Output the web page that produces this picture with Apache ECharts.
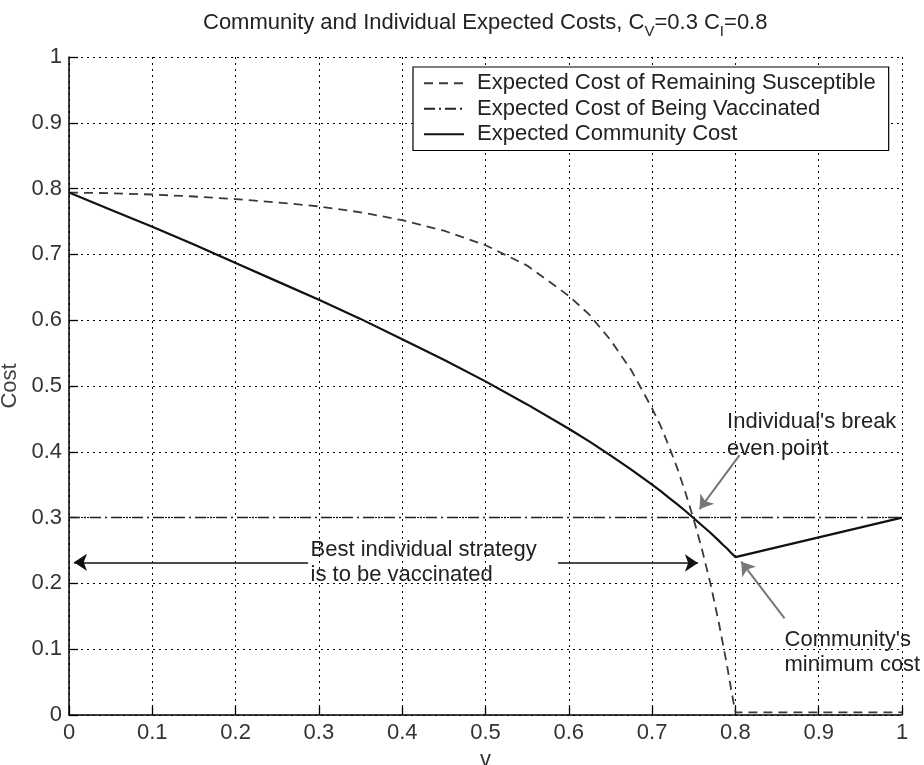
<!DOCTYPE html>
<html><head><meta charset="utf-8">
<script src="https://cdn.jsdelivr.net/npm/echarts@6/dist/echarts.min.js"></script>
<style>html,body{margin:0;padding:0;background:#fff}#c{width:924px;height:765px}</style>
</head><body><div id="c"></div>
<script>
// v (fraction vaccinated)
const vValues = [0, 0.05, 0.1, 0.15, 0.2, 0.25, 0.3, 0.35, 0.4, 0.45, 0.5, 0.55, 0.6, 0.625, 0.65, 0.675, 0.7, 0.71, 0.72, 0.73, 0.74, 0.75, 0.76, 0.77, 0.78, 0.785, 0.79, 0.795, 0.8, 0.9, 1.0];
// Expected cost of remaining susceptible
const susceptibleCost = [0.794, 0.793, 0.791, 0.788, 0.784, 0.779, 0.773, 0.764, 0.752, 0.736, 0.714, 0.683, 0.637, 0.608, 0.570, 0.524, 0.466, 0.440, 0.409, 0.376, 0.338, 0.297, 0.251, 0.200, 0.141, 0.108, 0.075, 0.038, 0.004, 0.004, 0.004];
// Expected community cost
const communityCost = [0.794, 0.768, 0.742, 0.715, 0.687, 0.659, 0.631, 0.602, 0.571, 0.540, 0.507, 0.472, 0.435, 0.4155, 0.3945, 0.373, 0.350, 0.3405, 0.3305, 0.3205, 0.310, 0.299, 0.288, 0.277, 0.265, 0.2587, 0.253, 0.2463, 0.240, 0.270, 0.300];
// Expected cost of being vaccinated
const vaccV = [0, 1];
const vaccinatedCost = [0.3, 0.3];

const xTickLabels = ['0','0.1','0.2','0.3','0.4','0.5','0.6','0.7','0.8','0.9','1'];
const yTickLabels = ['0','0.1','0.2','0.3','0.4','0.5','0.6','0.7','0.8','0.9','1'];
const seriesNames = ['Expected Cost of Remaining Susceptible', 'Expected Cost of Being Vaccinated', 'Expected Community Cost'];

const annotationTexts = ["Individual's break\neven point", "Community's\nminimum cost", "Best individual strategy\nis to be vaccinated"];
const annotationAnchors = [[0.790, 0.425], [0.859, 0.095], [0.290, 0.232]];
const calloutArrows = [[[0.805, 0.395], [0.757, 0.313]], [[0.859, 0.147], [0.807, 0.233]]];
const strategyArrows = [[[0.287, 0.232], [0.006, 0.232]], [[0.587, 0.231], [0.755, 0.231]]];

const FF = "'Liberation Sans', Arial, Helvetica, sans-serif";
const zip = (xs, ys) => xs.map((x, i) => [x, ys[i]]);

const chart = echarts.init(document.getElementById('c'), null, {renderer: 'canvas'});
chart.setOption({
  animation: false,
  backgroundColor: '#fff',
  title: {
    text: 'Community and Individual Expected Costs, C{s|V}=0.3 C{s|I}=0.8',
    left: 203, top: 6, padding: 0,
    textStyle: {fontSize: 22, fontWeight: 'normal', color: '#222', fontFamily: FF,
      rich: {s: {fontSize: 15, fontFamily: FF, color: '#222', padding: [18, 0, 0, 0]}}}
  },
  legend: {
    orient: 'vertical', left: 413, top: 67, padding: [5, 13, 5, 10],
    itemWidth: 40, itemHeight: 14, itemGap: 3,
    borderColor: '#000', borderWidth: 1.2, backgroundColor: '#fff', borderRadius: 0,
    selectedMode: false,
    itemStyle: {color: 'rgba(0,0,0,0)', borderWidth: 0, opacity: 0},
    textStyle: {fontSize: 22, color: '#222', fontFamily: FF, lineHeight: 22.5, padding: [0, 0, 0, 8]},
    data: seriesNames
  },
  grid: {left: 69, right: 22, top: 57, bottom: 50, containLabel: false, outerBoundsMode: 'none'},
  xAxis: {
    type: 'value', min: 0, max: 1, interval: 0.1,
    name: 'v', nameLocation: 'middle', nameGap: 29,
    nameTextStyle: {fontSize: 22, color: '#333', fontFamily: FF},
    axisLine: {show: true, onZero: false, lineStyle: {color: '#000', width: 1.5}},
    axisTick: {show: true, inside: true, length: 9, lineStyle: {color: '#000', width: 1.3}},
    axisLabel: {fontSize: 22, color: '#333', fontFamily: FF, margin: 7,
      formatter: v => xTickLabels[Math.round(v * 10)]},
    splitLine: {show: true, lineStyle: {color: '#000', width: 1, type: [2, 4]}}
  },
  yAxis: {
    type: 'value', min: 0, max: 1, interval: 0.1,
    name: 'Cost', nameLocation: 'middle', nameGap: 46, nameRotate: 90,
    nameTextStyle: {fontSize: 22, color: '#444', fontFamily: FF},
    axisLine: {show: true, onZero: false, lineStyle: {color: '#000', width: 1.5}},
    axisTick: {show: true, inside: true, length: 9, lineStyle: {color: '#000', width: 1.3}},
    axisLabel: {fontSize: 22, color: '#333', fontFamily: FF, margin: 7,
      formatter: v => yTickLabels[Math.round(v * 10)]},
    splitLine: {show: true, lineStyle: {color: '#000', width: 1, type: [2, 4]}}
  },
  series: [
    {
      name: seriesNames[0], type: 'line', data: zip(vValues, susceptibleCost),
      showSymbol: false, symbol: 'none', smooth: false, z: 3, clip: false,
      lineStyle: {color: '#3a3a3a', width: 1.8, type: [9, 6]},
      itemStyle: {color: '#3a3a3a'}
    },
    {
      name: seriesNames[1], type: 'line', data: zip(vaccV, vaccinatedCost),
      showSymbol: false, symbol: 'none', z: 3,
      lineStyle: {color: '#222', width: 1.5, type: [11, 4, 2, 4]},
      itemStyle: {color: '#222'},
      markLine: {
        silent: true, symbol: ['none', 'arrow'], symbolSize: 13,
        label: {show: false},
        lineStyle: {color: '#111', width: 1.6, type: 'solid'},
        data: strategyArrows.map(s => [{coord: s[0]}, {coord: s[1]}])
          .concat(calloutArrows.map(s => [{coord: s[0], lineStyle: {color: '#777', width: 2}}, {coord: s[1]}]))
      },
      markPoint: {
        silent: true, symbol: 'circle', symbolSize: 0,
        data: annotationAnchors.map((a, i) => ({
          coord: a, value: 0,
          label: {show: true, position: 'right', distance: 0, formatter: annotationTexts[i],
            fontSize: 22, color: '#222', fontFamily: FF, lineHeight: i === 0 ? 27 : 25, align: 'left'}
        }))
      }
    },
    {
      name: seriesNames[2], type: 'line', data: zip(vValues, communityCost),
      showSymbol: false, symbol: 'none', z: 4,
      lineStyle: {color: '#111', width: 2.2, type: 'solid'},
      itemStyle: {color: '#111'}
    }
  ]
});
</script>
</body></html>
